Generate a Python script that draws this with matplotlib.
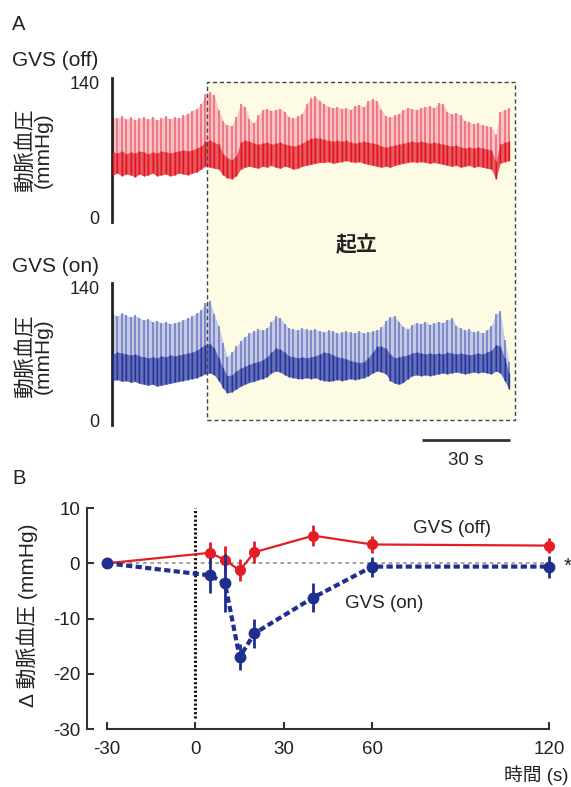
import numpy as np
import matplotlib
matplotlib.use('Agg')
import matplotlib.pyplot as plt
from matplotlib.patches import Rectangle
from matplotlib.transforms import blended_transform_factory

plt.rcParams['font.family'] = ['Liberation Sans', 'Noto Sans CJK JP', 'DejaVu Sans']
plt.rcParams['axes.unicode_minus'] = False

# ---------------- data ----------------
# Panel A: arterial pressure traces, sampled every 1.5 s (systolic, diastolic, top of dense band)
trace_step = 1.5
red_sys = [104, 103, 105, 102, 104, 101, 103, 104, 102, 104, 101, 103, 105, 102, 104, 103, 106, 108, 111, 113,
           118, 128, 130, 127, 112, 100, 96, 95, 104, 118, 115, 102, 98, 106, 112, 113, 111, 112, 113, 110,
           104, 103, 105, 108, 118, 124, 126, 121, 118, 115, 114, 115, 113, 114, 112, 116, 117, 115, 121, 123,
           121, 112, 105, 104, 106, 108, 112, 114, 113, 112, 114, 115, 116, 114, 119, 118, 110, 107, 109, 106,
           100, 99, 97, 98, 96, 95, 94, 86, 110, 112, 114]
red_dia = [44, 46, 43, 45, 44, 42, 45, 43, 44, 46, 43, 44, 45, 43, 44, 46, 45, 44, 46, 47,
           50, 53, 52, 51, 50, 44, 41, 40, 43, 50, 52, 53, 52, 51, 53, 52, 54, 52, 51, 53,
           52, 50, 51, 53, 54, 55, 56, 57, 57, 58, 56, 57, 58, 59, 58, 57, 58, 56, 55, 54,
           53, 52, 53, 52, 54, 55, 56, 57, 58, 57, 58, 57, 56, 57, 56, 55, 54, 53, 54, 52,
           53, 54, 52, 53, 52, 51, 50, 40, 56, 58, 59]
red_mid = [68, 67, 69, 66, 68, 67, 69, 68, 66, 68, 67, 69, 68, 67, 68, 69, 70, 69, 70, 72,
           74, 79, 80, 78, 76, 66, 62, 60, 64, 78, 80, 79, 77, 76, 77, 78, 76, 77, 78, 76,
           75, 74, 75, 77, 80, 82, 83, 82, 81, 80, 79, 80, 79, 80, 78, 77, 78, 79, 78, 77,
           76, 74, 73, 74, 75, 76, 77, 78, 79, 78, 79, 78, 77, 78, 77, 76, 75, 74, 75, 73,
           72, 73, 72, 73, 72, 71, 70, 58, 76, 78, 79]
blue_sys = [112, 110, 113, 111, 109, 111, 108, 106, 107, 104, 105, 103, 104, 102, 103, 104, 106, 108, 110, 113,
            116, 124, 126, 112, 100, 82, 67, 72, 78, 84, 88, 92, 94, 96, 95, 97, 104, 110, 108, 102,
            97, 96, 95, 97, 96, 95, 96, 94, 93, 95, 94, 92, 93, 94, 93, 92, 94, 92, 93, 94,
            95, 98, 105, 109, 110, 104, 99, 96, 101, 103, 102, 104, 101, 103, 104, 103, 106, 108, 100, 97,
            95, 96, 93, 94, 92, 95, 100, 112, 115, 85, 62]
blue_dia = [42, 43, 41, 42, 40, 41, 39, 38, 37, 38, 36, 37, 38, 39, 40, 41, 42, 43, 44, 45,
            47, 49, 50, 48, 42, 34, 29, 30, 33, 36, 38, 40, 41, 43, 44, 46, 50, 52, 51, 48,
            46, 45, 44, 44, 45, 44, 45, 43, 42, 41, 42, 43, 42, 43, 44, 43, 44, 45, 47, 50,
            52, 51, 49, 42, 39, 38, 40, 44, 47, 48, 47, 48, 47, 48, 49, 50, 49, 50, 51, 50,
            49, 50, 51, 50, 51, 50, 49, 52, 50, 42, 33]
blue_mid = [70, 72, 71, 70, 69, 70, 68, 67, 66, 67, 66, 68, 67, 69, 68, 69, 70, 71, 72, 74,
            77, 80, 81, 76, 66, 55, 47, 48, 52, 55, 57, 59, 61, 62, 64, 67, 72, 76, 75, 72,
            68, 67, 66, 67, 66, 67, 68, 70, 72, 71, 69, 67, 66, 65, 63, 62, 61, 62, 66, 72,
            78, 78, 76, 70, 66, 67, 68, 69, 71, 72, 71, 70, 71, 70, 71, 70, 72, 71, 70, 71,
            70, 69, 70, 71, 70, 72, 74, 80, 78, 66, 50]
stand_start = 32      # s, onset of standing
stand_end = 137       # s, end of shaded period
scale_bar_len = 30    # s

# Panel B: change in arterial pressure
time_b = [-30, 5, 10, 15, 20, 40, 60, 120]
off_mean = [0, 1.9, 0.6, -1.3, 2.0, 5.0, 3.4, 3.2]
off_err = [0, 1.9, 2.5, 2.0, 2.0, 1.9, 1.5, 1.3]
on_mean = [0, -2.2, -3.6, -17.0, -12.7, -6.2, -0.6, -0.6]
on_err = [0, 3.2, 5.2, 2.3, 2.7, 2.6, 1.8, 2.0]
xticks_b = [-30, 0, 30, 60, 120]
yticks_b = [10, 0, -10, -20, -30]

# ---------------- figure ----------------
W, H = 571, 787
fig = plt.figure(figsize=(W / 100, H / 100), dpi=100)


def fx(px):
    return px / W


def fy(py):
    return 1 - py / H


RED, RED_PALE, RED_FILL, RED_DARK = '#e31e24', '#ec6670', '#f6c2c5', '#e0141f'
BLUE, BLUE_PALE, BLUE_FILL, BLUE_DARK = '#1f2f8f', '#6c79bf', '#c5cae7', '#26359c'
TXT = '#222222'

t = np.arange(len(red_sys)) * trace_step
px_per_s = 88 / 30.0
xlim_a = ((112 - 113) / px_per_s, (520 - 113) / px_per_s)


def trace_axes(top, bottom, sys, dia, mid, pale, fill, dark):
    ax = fig.add_axes([fx(112), fy(bottom), fx(520) - fx(112), (bottom - top) / H])
    ax.patch.set_visible(False)
    ax.fill_between(t, dia, sys, color=fill, lw=0, zorder=1)
    ax.vlines(t, dia, sys, color=pale, lw=1.1, zorder=2)
    ax.fill_between(t, dia, mid, color=dark, lw=0, alpha=0.6, zorder=3)
    ax.vlines(t, dia, mid, color=dark, lw=1.0, zorder=4)
    ax.set_xlim(*xlim_a)
    ax.set_ylim(-5, 145)
    for s in ['top', 'right', 'bottom']:
        ax.spines[s].set_visible(False)
    ax.spines['left'].set_linewidth(2.0)
    ax.spines['left'].set_color(TXT)
    ax.set_xticks([])
    ax.set_yticks([0, 140])
    ax.tick_params(axis='y', length=0, pad=9, labelsize=13, labelcolor=TXT)
    return ax


ax_red = trace_axes(78, 222, red_sys, red_dia, red_mid, RED_PALE, RED_FILL, RED_DARK)
ax_blue = trace_axes(283, 425, blue_sys, blue_dia, blue_mid, BLUE_PALE, BLUE_FILL, BLUE_DARK)

# shaded standing period (spans both traces)
tr = blended_transform_factory(ax_red.transData, fig.transFigure)
fig.add_artist(Rectangle((stand_start, fy(420)), stand_end - stand_start, fy(82) - fy(420),
                         transform=tr, facecolor='#fdfbe4', edgecolor='none', zorder=-1))
fig.add_artist(Rectangle((stand_start, fy(420)), stand_end - stand_start, fy(82) - fy(420),
                         transform=tr, fill=False, edgecolor='#444', lw=1.0,
                         linestyle=(0, (3, 2)), zorder=5))
fig.text(fx(357), fy(245), '起立', fontsize=15, fontweight='bold', ha='center', va='center', color=TXT)

# scale bar
trb = blended_transform_factory(ax_blue.transData, fig.transFigure)
x_end = 135.4
ax_blue.plot([x_end - scale_bar_len, x_end], [fy(440), fy(440)], transform=trb, color='#333',
             lw=2.0, clip_on=False, solid_capstyle='butt')
fig.text(ax_blue.transData.transform((x_end - scale_bar_len / 2, 0))[0] / fig.bbox.width,
         fy(461), '30 s', fontsize=13.5, ha='center', va='center', color=TXT)

# panel A labels
fig.text(fx(12), fy(25), 'A', fontsize=14.5, ha='left', va='center', color=TXT)
fig.text(fx(12), fy(60), 'GVS (off)', fontsize=15, ha='left', va='center', color=TXT)
fig.text(fx(12), fy(267), 'GVS (on)', fontsize=15, ha='left', va='center', color=TXT)
for yc in (150, 356):
    fig.text(fx(34), fy(yc), '動脈血圧\n(mmHg)', fontsize=15, rotation=90, ha='center', va='center',
             multialignment='center', linespacing=0.95, color=TXT)

# ---------------- panel B ----------------
ax_b = fig.add_axes([fx(87), fy(729), fx(560) - fx(87), (729 - 502.5) / H])
ax_b.patch.set_visible(False)
ax_b.set_xlim(-36.8, 123.7)
ax_b.set_ylim(-30, 11)
for s in ['top', 'right']:
    ax_b.spines[s].set_visible(False)
ax_b.spines['left'].set_bounds(-30, 10)
ax_b.spines['bottom'].set_bounds(-30, 120)
for s in ['left', 'bottom']:
    ax_b.spines[s].set_linewidth(1.5)
    ax_b.spines[s].set_color('#333')
ax_b.set_xticks(xticks_b)
ax_b.set_yticks(yticks_b)
ax_b.tick_params(direction='in', length=5, width=1.5, color='#333', labelsize=13.5, labelcolor=TXT)
ax_b.tick_params(axis='x', pad=9)
ax_b.tick_params(axis='y', pad=5)

ax_b.plot([-30, 122], [0, 0], color='#999', lw=1.3, ls=(0, (2, 2)), clip_on=False, zorder=1)
ax_b.plot([0, 0], [-28, 10], color='#111', lw=2.2, ls=(0, (0.7, 0.7)), zorder=2)

ax_b.errorbar(time_b, off_mean, yerr=off_err, color=RED, lw=1.6, elinewidth=2.0, capsize=0,
              marker='o', markersize=7, zorder=3)
ax_b.errorbar(time_b, on_mean, yerr=on_err, color=BLUE, lw=3.0, ls=(0, (1.5, 0.8)), elinewidth=2.0,
              capsize=0, marker='o', markersize=7.5, zorder=4)

ax_b.text(73.8, 6.3, 'GVS (off)', fontsize=13.5, ha='left', va='center', color=TXT)
ax_b.text(50.8, -7.3, 'GVS (on)', fontsize=13.5, ha='left', va='center', color=TXT)
ax_b.text(125.0, -0.6, '*', fontsize=15, ha='left', va='center', color=TXT, clip_on=False)

fig.text(fx(12), fy(478), 'B', fontsize=14.5, ha='left', va='center', color=TXT)
fig.text(fx(27), fy(615), 'Δ 動脈血圧 (mmHg)', fontsize=15, rotation=90, ha='center', va='center', color=TXT)
fig.text(fx(569), fy(775), '時間 (s)', fontsize=13.5, ha='right', va='center', color=TXT)

fig.savefig('out.png', dpi=100)
